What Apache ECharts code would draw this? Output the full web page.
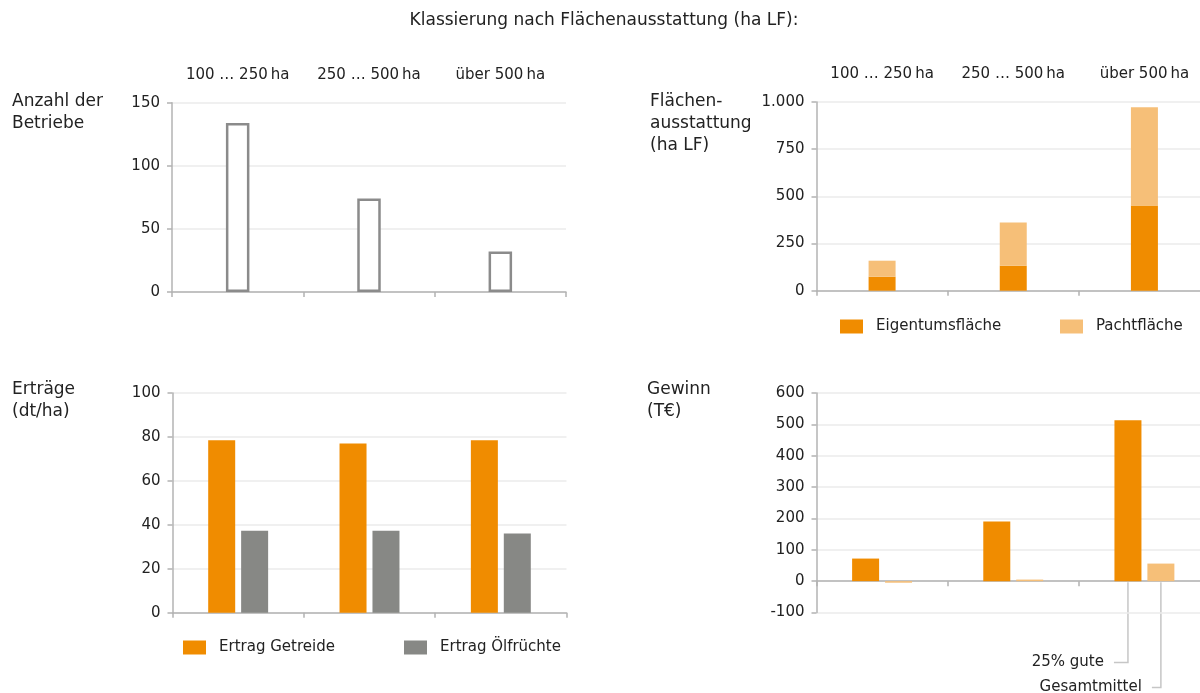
<!DOCTYPE html>
<html>
<head>
<meta charset="utf-8">
<script src="https://cdn.jsdelivr.net/npm/echarts@6/dist/echarts.min.js"></script>
<style>
html,body{margin:0;padding:0;background:#fff;overflow:hidden;width:1200px;height:693px;}
#c{width:1212px;height:693px;}
</style>
</head>
<body>
<div id="c"></div>
<script>
// ---- data ----
const categories = ['100 … 250\u202Fha', '250 … 500\u202Fha', 'über 500\u202Fha'];
const betriebe = [134, 74, 32];
const eigentum = [74, 133, 451];
const pacht = [85, 228, 521];
const getreide = [78.5, 77, 78.5];
const oelfruechte = [37.3, 37.3, 36];
const gewinnGute = [72, 190, 513];
const gewinnGesamt = [-5, 5, 56];

const FONT = '"DejaVu Sans", Verdana, sans-serif';
const TXT = '#222';
const AX = '#b3b3b3';
const GRID = '#ebebeb';
const ORANGE = '#F08C00';
const LIGHT = '#F6BF78';
const GREY = '#878885';

const chart = echarts.init(document.getElementById('c'));

function catAxis(gridIndex) {
  return {
    type: 'category', gridIndex, data: categories,
    axisLine: { show: true, lineStyle: { color: AX, width: 1.5 } },
    axisTick: { show: true, length: 5, lineStyle: { color: AX, width: 1.5 } },
    axisLabel: { show: false },
    splitLine: { show: false }
  };
}
function topAxis(gridIndex) {
  return {
    type: 'category', gridIndex, data: categories, position: 'top',
    axisLine: { show: false }, axisTick: { show: false },
    axisLabel: { show: true, interval: 0, margin: 20, fontSize: 15, fontFamily: FONT, color: TXT },
    splitLine: { show: false }
  };
}
function valAxis(gridIndex, min, max, interval, fmt) {
  return {
    type: 'value', gridIndex, min, max, interval,
    axisLine: { show: true, lineStyle: { color: AX, width: 1.5 } },
    axisTick: { show: true, length: 5, lineStyle: { color: AX, width: 1.5 } },
    axisLabel: { margin: 12, fontSize: 15, fontFamily: FONT, color: TXT, formatter: fmt },
    splitLine: { show: true, lineStyle: { color: GRID, width: 1.5 } }
  };
}
function legend(name, left, top) {
  return {
    data: [name], left, top, padding: 0, itemWidth: 23, itemHeight: 14,
    icon: 'rect', selectedMode: false,
    textStyle: { fontSize: 15, fontFamily: FONT, color: TXT, padding: [0, 0, 0, 8] }
  };
}
function txt(text, left, top) {
  return {
    type: 'text', left, top,
    style: { text, font: '17px ' + FONT, fill: TXT, lineHeight: 22 }
  };
}

const staticGraphics = [
  { type: 'text', x: 604, y: 21, style: { text: 'Klassierung nach Flächenausstattung (ha LF):', font: '17px ' + FONT, fill: TXT, textAlign: 'center', textVerticalAlign: 'middle' } },
  txt('Anzahl der\nBetriebe', 12, 91),
  txt('Flächen-\nausstattung\n(ha LF)', 650, 91),
  txt('Erträge\n(dt/ha)', 12, 379),
  txt('Gewinn\n(T€)', 647, 379)
];

const option = {
  animation: false,
  backgroundColor: '#fff',
  textStyle: { fontFamily: FONT },
  grid: [
    { left: 172, width: 394, top: 102.7, height: 189.3 },
    { left: 816.5, width: 393.5, top: 102, height: 188.7 },
    { left: 172.5, width: 394, top: 393, height: 219.7 },
    { left: 816.5, width: 393.5, top: 393, height: 219.5 }
  ],
  xAxis: [catAxis(0), catAxis(1), catAxis(2), catAxis(3), topAxis(0), topAxis(1)],
  yAxis: [
    valAxis(0, 0, 150, 50),
    valAxis(1, 0, 1000, 250, v => v >= 1000 ? Math.floor(v / 1000) + '.' + String(v % 1000).padStart(3, '0') : String(v)),
    valAxis(2, 0, 100, 20),
    valAxis(3, -100, 600, 100)
  ],
  legend: [
    legend('Eigentumsfläche', 840, 319),
    legend('Pachtfläche', 1060, 319),
    legend('Ertrag Getreide', 183, 640),
    legend('Ertrag Ölfrüchte', 404, 640)
  ],
  series: [
    { name: 'Anzahl der Betriebe', type: 'bar', xAxisIndex: 0, yAxisIndex: 0, data: betriebe, barWidth: 23.5,
      itemStyle: { color: '#fff', borderColor: '#8b8b8b', borderWidth: 2.5 } },
    { name: 'Eigentumsfläche', type: 'bar', xAxisIndex: 1, yAxisIndex: 1, stack: 'flaeche', data: eigentum, barWidth: 27,
      itemStyle: { color: ORANGE } },
    { name: 'Pachtfläche', type: 'bar', xAxisIndex: 1, yAxisIndex: 1, stack: 'flaeche', data: pacht, barWidth: 27,
      itemStyle: { color: LIGHT } },
    { name: 'Ertrag Getreide', type: 'bar', xAxisIndex: 2, yAxisIndex: 2, data: getreide, barWidth: 27, barGap: '22%',
      itemStyle: { color: ORANGE } },
    { name: 'Ertrag Ölfrüchte', type: 'bar', xAxisIndex: 2, yAxisIndex: 2, data: oelfruechte, barWidth: 27, barGap: '22%',
      itemStyle: { color: GREY } },
    { name: '25% gute', type: 'bar', xAxisIndex: 3, yAxisIndex: 3, data: gewinnGute, barWidth: 27, barGap: '22%',
      itemStyle: { color: ORANGE } },
    { name: 'Gesamtmittel', type: 'bar', xAxisIndex: 3, yAxisIndex: 3, data: gewinnGesamt, barWidth: 27, barGap: '22%',
      itemStyle: { color: LIGHT } }
  ],
  graphic: staticGraphics
};
chart.setOption(option);

// ---- annotation leader lines, anchored to the library's bar layout ----
const model = chart.getModel();
const y0 = chart.convertToPixel({ yAxisIndex: 3 }, 0);
const yBottom = chart.convertToPixel({ yAxisIndex: 3 }, -100);
const lastIdx = categories.length - 1;
const annots = [
  { series: 5, text: '25% gute', drop: 50, arm: 14 },
  { series: 6, text: 'Gesamtmittel', drop: 75, arm: 9 }
];
const annGraphics = [];
annots.forEach(a => {
  const lay = model.getSeriesByIndex(a.series).getData().getItemLayout(lastIdx);
  const xc = lay.x + lay.width / 2;
  const yl = yBottom + a.drop;
  annGraphics.push({
    type: 'polyline', silent: true,
    shape: { points: [[xc, y0 + 1], [xc, yl], [xc - a.arm, yl]] },
    style: { stroke: '#c6c6c6', lineWidth: 1.5, fill: null }
  });
  annGraphics.push({
    type: 'text', x: xc - a.arm - 10, y: yl,
    style: { text: a.text, font: '15px ' + FONT, fill: TXT, textAlign: 'right', textVerticalAlign: 'middle' }
  });
});
chart.setOption({ graphic: staticGraphics.concat(annGraphics) });
</script>
</body>
</html>
